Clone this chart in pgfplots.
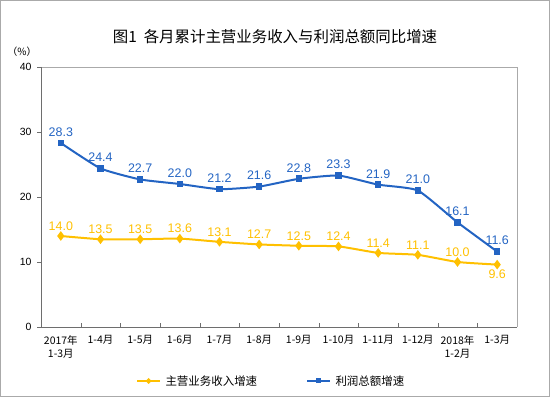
\documentclass[border=0pt]{standalone}
\usepackage{pgfplots}
\pgfplotsset{compat=1.18}
\usepackage{fontspec}
\setmainfont{Liberation Sans}
\newfontfamily\cjk{Noto Sans CJK SC}
\definecolor{cblue}{RGB}{35,100,195}
\definecolor{cyel}{RGB}{255,192,0}
\definecolor{axg}{RGB}{110,110,110}
\definecolor{frg}{RGB}{170,170,170}
\begin{document}
\begin{tikzpicture}[x=1bp,y=1bp]
\draw[frg,line width=1bp] (0.5bp,0.5bp) rectangle (549.5bp,396.5bp);
\node[font=\cjk\fontsize{15.5}{17}\selectfont] at (275bp,360bp) {图1\ \ 各月累计主营业务收入与利润总额同比增速};
\node[font=\cjk\fontsize{10}{12}\selectfont] at (22bp,345bp) {（\%）};
\begin{axis}[
  at={(41bp,70bp)}, anchor=south west,
  width=476bp, height=260bp, scale only axis,
  xmin=-0.5, xmax=11.5, ymin=0, ymax=40,
  ytick={0,10,20,30,40},
  xtick={0,...,11},
  xticklabels={{2017年\\1-3月},1-4月,1-5月,1-6月,1-7月,1-8月,1-9月,1-10月,1-11月,1-12月,{2018年\\1-2月},1-3月},
  x tick label style={font=\cjk\fontsize{10.5}{13}\selectfont, align=center, anchor=north, yshift=-1bp},
  y tick label style={font=\fontsize{10.5}{12}\selectfont, xshift=-2bp},
  /pgf/number format/assume math mode=true,
  major x tick style={draw=none},
  minor xtick={0.5,1.5,...,10.5},
  minor tick length=4bp,
  major tick length=4bp,
  ytick style={axg},
  xtick pos=bottom, ytick pos=left,
  tick align=outside,
  minor x tick style={axg, yshift=4bp},
  axis line style={draw=none},
  clip=false,
]
\draw[frg] (axis cs:-0.5,40) -- (axis cs:11.5,40) -- (axis cs:11.5,0);
\draw[axg,line width=0.8bp] (axis cs:-0.5,40) -- (axis cs:-0.5,0) -- (axis cs:11.5,0);
\addplot[cyel, line width=2bp, smooth, tension=0.3, mark=diamond*, mark size=3.2bp, mark options={solid}]
 coordinates {(0,14.0)(1,13.5)(2,13.5)(3,13.6)(4,13.1)(5,12.7)(6,12.5)(7,12.4)(8,11.4)(9,11.1)(10,10.0)(11,9.6)};
\addplot[cblue, line width=2bp, smooth, tension=0.3, mark=square*, mark size=2.3bp]
 coordinates {(0,28.3)(1,24.4)(2,22.7)(3,22.0)(4,21.2)(5,21.6)(6,22.8)(7,23.3)(8,21.9)(9,21.0)(10,16.1)(11,11.6)};
\addplot[draw=none, mark=none, nodes near coords, point meta=explicit symbolic,
  every node near coord/.style={font=\fontsize{12.5}{14}\selectfont, text=cyel, anchor=south, yshift=2bp}]
 table[meta=l] {
x y l
0 14.0 14.0
1 13.5 13.5
2 13.5 13.5
3 13.6 13.6
4 13.1 13.1
5 12.7 12.7
6 12.5 12.5
7 12.4 12.4
8 11.4 11.4
9 11.1 11.1
10 10.0 10.0
};
\addplot[draw=none, mark=none, nodes near coords, point meta=explicit symbolic,
  every node near coord/.style={font=\fontsize{12.5}{14}\selectfont, text=cyel, anchor=north, yshift=-2bp}]
 table[meta=l] {
x y l
11 9.6 9.6
};
\addplot[draw=none, mark=none, nodes near coords, point meta=explicit symbolic,
  every node near coord/.style={font=\fontsize{12.5}{14}\selectfont, text=cblue, anchor=south, yshift=3bp}]
 table[meta=l] {
x y l
0 28.3 28.3
1 24.4 24.4
2 22.7 22.7
3 22.0 22.0
4 21.2 21.2
5 21.6 21.6
6 22.8 22.8
7 23.3 23.3
8 21.9 21.9
9 21.0 21.0
10 16.1 16.1
11 11.6 11.6
};
\end{axis}
\draw[cyel, line width=2bp] (137bp,16bp) -- (160bp,16bp);
\fill[cyel] (148.5bp,19bp) -- (151.5bp,16bp) -- (148.5bp,13bp) -- (145.5bp,16bp) -- cycle;
\node[anchor=west, font=\cjk\fontsize{11.5}{13}\selectfont] at (162bp,16bp) {主营业务收入增速};
\draw[cblue, line width=2bp] (307bp,16bp) -- (330bp,16bp);
\fill[cblue] (316bp,13.5bp) rectangle (321bp,18.5bp);
\node[anchor=west, font=\cjk\fontsize{11.5}{13}\selectfont] at (332bp,16bp) {利润总额增速};
\end{tikzpicture}
\end{document}
